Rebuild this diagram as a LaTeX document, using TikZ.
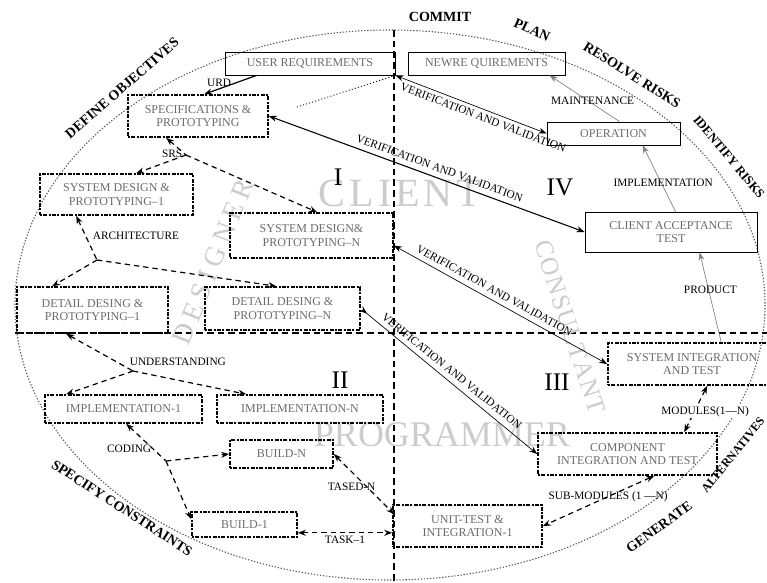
\documentclass[tikz,border=0pt]{standalone}
\usepackage{fontspec}
\setmainfont{Liberation Serif}
\usetikzlibrary{arrows.meta,calc}

\definecolor{boxtext}{gray}{0.42}
\definecolor{wmgray}{gray}{0.80}
\definecolor{rimgray}{gray}{0.35}
\newcommand{\boxfont}{\fontsize{9}{10}\selectfont}
\newcommand{\lblfont}{\fontsize{8.5}{9.5}\selectfont}

\tikzset{every picture/.style={line width=0.75pt}}
\tikzset{
  ubox/.style={draw, line width=0.6pt, inner sep=1pt, align=center, text=boxtext, font=\boxfont},
  dbox/.style={draw, line width=1.2pt, dash pattern=on 1.5pt off 1pt on 3pt off 1pt, inner sep=1pt, align=center, text=boxtext, font=\boxfont},
  flow/.style={line width=0.9pt, dash pattern=on 4pt off 3pt},
  thinln/.style={line width=0.5pt, draw=gray},
  solidln/.style={line width=0.9pt},
  vvthin/.style={line width=0.5pt},
  vvthick/.style={line width=0.8pt},
  dotln/.style={line width=0.6pt, dash pattern=on 0.8pt off 1.6pt},
  lbl/.style={font=\lblfont, inner sep=1pt},
  vvlbl/.style={font=\lblfont, inner sep=1pt},
  rimlbl/.style={font=\fontsize{10.5}{12}\selectfont\bfseries, inner sep=1pt},
  wmark/.style={text=wmgray, inner sep=0pt},
  numeral/.style={font=\fontsize{19}{20}\selectfont, inner sep=0pt},
  rim/.style={draw=rimgray, line width=0.8pt, dash pattern=on 1pt off 1.3pt},
  quad/.style={line width=1.6pt, dash pattern=on 5pt off 3pt}
}

\begin{document}
\begin{tikzpicture}[x=0.75pt,y=0.75pt,yscale=-1,xscale=1, >={Stealth[length=6pt,width=4.5pt]}]
\useasboundingbox (0,0) rectangle (767,582);

%Shape: Ellipse
\draw[rim] (390,305) ellipse [x radius=375, y radius=275];
%Straight Lines
\draw[quad] (394,30) -- (394,582);
%Straight Lines
\draw[quad] (15,333) -- (767,333);

% Watermarks
\node[wmark, font=\fontsize{30}{30}\selectfont] (client) at (400,193) {C\hspace{3pt}L\hspace{3pt}I\hspace{3pt}E\hspace{3pt}N\hspace{3pt}T};
\node[wmark, font=\fontsize{27}{27}\selectfont] (progr) at (442,435) {PROGRAMMER};
\node[wmark, rotate=68, font=\fontsize{21}{21}\selectfont] (designer) at (213,262) {D\hspace{4pt}E\hspace{4pt}S\hspace{4pt}I\hspace{4pt}G\hspace{4pt}N\hspace{4pt}E\hspace{4pt}R};
\node[wmark, rotate=-72, font=\fontsize{19}{19}\selectfont] (consultant) at (570,327) {C\hspace{1pt}O\hspace{1pt}N\hspace{1pt}S\hspace{1pt}U\hspace{1pt}L\hspace{1pt}T\hspace{1pt}A\hspace{1pt}N\hspace{1pt}T};

% Quadrant numbers
\node[numeral] (q1) at (338,177) {I};
\node[numeral] (q2) at (340,380) {II};
\node[numeral] (q3) at (557,382) {III};
\node[numeral] (q4) at (560,187) {IV};

% Boxes
\node[ubox, minimum width=127.5pt, minimum height=17.25pt] (ureq) at (310,63.5) {USER REQUIREMENTS};
\node[ubox, minimum width=117.75pt, minimum height=17.25pt] (nreq) at (486.5,63.5) {NEWRE QUIREMENTS};
\node[dbox, minimum width=105pt, minimum height=31.5pt] (spec) at (198,116) {SPECIFICATIONS \&\\PROTOTYPING};
\node[dbox, minimum width=114.75pt, minimum height=30.75pt] (sd1) at (116.5,194.5) {SYSTEM DESIGN \&\\PROTOTYPING--1};
\node[dbox, minimum width=122.25pt, minimum height=33.75pt] (sdn) at (311.5,235.5) {SYSTEM DESIGN\&\\PROTOTYPING--N};
\node[dbox, minimum width=113.25pt, minimum height=34.5pt] (dd1) at (92.5,310) {DETAIL DESING \&\\PROTOTYPING--1};
\node[dbox, minimum width=116.25pt, minimum height=32.25pt] (ddn) at (282.5,308.5) {DETAIL DESING \&\\PROTOTYPING--N};
\node[dbox, minimum width=117.75pt, minimum height=21pt] (imp1) at (123.5,409) {IMPLEMENTATION-1};
\node[dbox, minimum width=124.5pt, minimum height=21pt] (impn) at (300,409) {IMPLEMENTATION-N};
\node[dbox, minimum width=77.25pt, minimum height=21pt] (bldn) at (281.5,454) {BUILD-N};
\node[dbox, minimum width=78.75pt, minimum height=18.75pt] (bld1) at (244.5,524.5) {BUILD-1};
\node[dbox, minimum width=111.75pt, minimum height=31.5pt] (unit) at (467.5,526) {UNIT-TEST \&\\INTEGRATION-1};
\node[dbox, minimum width=134.25pt, minimum height=31.5pt] (comp) at (627.5,454) {COMPONENT\\INTEGRATION AND TEST};
\node[dbox, minimum width=126pt, minimum height=31.5pt] (sint) at (692,364) {SYSTEM INTEGRATION\\AND TEST};
\node[ubox, minimum width=129pt, minimum height=30pt] (cat) at (671,232) {CLIENT ACCEPTANCE\\TEST};
\node[ubox, minimum width=99.75pt, minimum height=17.25pt] (oper) at (613.5,133.5) {OPERATION};

% Junctions
\coordinate (srs) at (186,155);
\coordinate (arch) at (97,260);
\coordinate (und) at (133,371);
\coordinate (cod) at (166,461);
\coordinate (vvtail) at (297,107);

% Left side flow
\draw[solidln,->] ($(ureq.south west)+(32,0)$) -- node[lbl, left=2pt, pos=0.4] (urd) {URD} ($(spec.north west)+(77,0)$);
\draw[flow,<-] ($(spec.south west)+(39,0)$) -- (srs);
\draw[flow,->] (srs) -- ($(sd1.north west)+(97,0)$);
\draw[flow,->] (srs) -- ($(sdn.north west)+(88,0)$);
\node[lbl, anchor=east] (srslbl) at (184,154) {SRS};

\draw[flow,<-] ($(sd1.south west)+(37,0)$) -- (arch);
\draw[flow,->] (arch) -- ($(dd1.north west)+(36,0)$);
\draw[flow,->] (arch) -- ($(ddn.north west)+(72,0)$);
\node[lbl, anchor=west] (archlbl) at (91,236) {ARCHITECTURE};

\draw[flow,<-] ($(dd1.south west)+(50,0)$) -- (und);
\draw[flow,->] (und) -- ($(imp1.north west)+(22,0)$);
\draw[flow,->] (und) -- ($(impn.north west)+(30,0)$);
\node[lbl, anchor=west] (undlbl) at (128,362) {UNDERSTANDING};

\draw[flow,<-] ($(imp1.south west)+(82,0)$) -- (cod);
\draw[flow,->] (cod) -- (bldn.west);
\draw[flow,->] (cod) -- ($(bld1.north west)+(0,8)$);
\node[lbl, anchor=east] (codlbl) at (153,449) {CODING};

% Bottom flow
\draw[flow,<->] (bldn.east) -- node[lbl, pos=0.45, xshift=-7pt, yshift=-4pt] (tasedn) {TASED-N} ($(unit.north west)+(2,10)$);
\draw[flow,<->] ($(bld1.south east)+(0,-5)$) -- node[lbl, below=1pt] (task1) {TASK--1} ($(unit.south west)+(0,-15)$);
\draw[flow,<->] ($(comp.south west)+(117,0)$) -- node[lbl, pos=0.45, xshift=3pt, yshift=1pt] (submod) {SUB-MODULES (1 ---N)} (unit.east);
\draw[flow,<->] ($(sint.south west)+(100,0)$) -- node[lbl, fill=white, xshift=7pt, yshift=-2pt] (mods) {MODULES(1---N)} ($(comp.north west)+(147,0)$);

% Right side flow
\draw[thinln,->] ($(sint.north west)+(114,0)$) -- node[lbl, yshift=6pt] (prod) {PRODUCT} ($(cat.south west)+(115,0)$);
\draw[thinln,->] ($(cat.north west)+(91,0)$) -- node[lbl, xshift=3pt, yshift=-3pt] (impl) {IMPLEMENTATION} ($(oper.south west)+(96,0)$);
\draw[thinln,->] ($(oper.north west)+(73,0)$) -- node[lbl, xshift=6pt, yshift=-2pt] (maint) {MAINTENANCE} ($(nreq.south west)+(142,0)$);

% Verification and validation
\draw[dotln] (ureq.south east) -- (vvtail);
\draw[vvthin,<->] (ureq.south east) -- node[vvlbl, rotate=-21, anchor=north, pos=0.6, yshift=-2pt] (vva) {VERIFICATION AND VALIDATION} (oper.west);
\draw[vvthick,<->] (spec.east) -- node[vvlbl, rotate=-20, anchor=south, pos=0.53, yshift=3pt] (vvb) {VERIFICATION AND VALIDATION} (cat.west);
\draw[vvthin,<->] ($(sdn.east)+(0,10)$) -- node[vvlbl, rotate=-29, anchor=south, pos=0.45, yshift=3pt] (vvc) {VERIFICATION AND VALIDATION} (sint.west);
\draw[vvthin,>->] (ddn.east) -- node[vvlbl, rotate=-39, anchor=south, pos=0.47, yshift=3pt, xshift=2pt] (vvd) {VERIFICATION AND VALIDATION} (comp.west);

% Text Node
\node[rimlbl, rotate=41] (defobj) at (122,88) {DEFINE OBJECTIVES};
\node[rimlbl] (commit) at (440,17) {COMMIT};
\node[rimlbl, rotate=-25] (plan) at (532,30) {PLAN};
\node[rimlbl, rotate=-32] (resolve) at (632,75) {RESOLVE RISKS};
\node[rimlbl, rotate=-50, font=\fontsize{9.5}{11}\selectfont\bfseries] (identify) at (729,157) {IDENTIFY RISKS};
\node[rimlbl, rotate=-33] (specify) at (122,508) {SPECIFY CONSTRAINTS};
\node[rimlbl, rotate=36] (generate) at (659,527) {GENERATE};
\node[rimlbl, rotate=51, font=\fontsize{9}{10}\selectfont\bfseries] (altern) at (733,455) {ALTERNATIVES};

\end{tikzpicture}
\end{document}
